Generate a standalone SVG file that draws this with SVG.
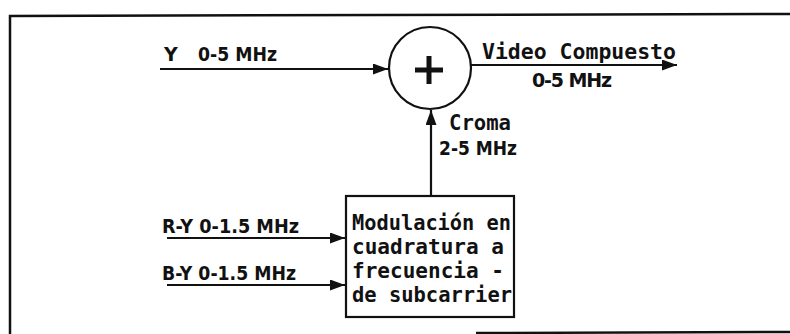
<svg xmlns="http://www.w3.org/2000/svg" width="790" height="334" viewBox="0 0 790 334">
<style>
.ln{stroke:#111;stroke-width:2.2;fill:none}
.frame{stroke:#111;stroke-width:2.5;fill:none}
.lbl{font-family:"DejaVu Sans","Liberation Sans",sans-serif;font-weight:bold;font-size:19px;fill:#111}
.mono{font-family:"DejaVu Sans Mono","Liberation Mono",monospace;font-weight:bold;font-size:22px;fill:#111}
.node{stroke:#111;stroke-width:2.2;fill:#fff}
</style>
<defs>
<marker id="ah" markerUnits="userSpaceOnUse" markerWidth="16" markerHeight="12" refX="15" refY="5.5" orient="auto">
<path d="M0,0 L15,5.5 L0,11 z" fill="#111"/>
</marker>
</defs>
<rect width="790" height="334" fill="#fff"/>
<g id="frame">
<path class="frame" d="M10,334 L10,16 L790,14"/>
<path class="frame" d="M476,333 L790,332"/>
</g>
<g id="connectors">
<line class="ln" x1="160" y1="69" x2="388" y2="69" marker-end="url(#ah)"/>
<line class="ln" x1="471" y1="65" x2="677" y2="65" marker-end="url(#ah)"/>
<line class="ln" x1="431" y1="196" x2="431" y2="110" marker-end="url(#ah)"/>
<line class="ln" x1="167" y1="238" x2="345" y2="238" marker-end="url(#ah)"/>
<line class="ln" x1="167" y1="285" x2="345" y2="285" marker-end="url(#ah)"/>
</g>
<g id="sum">
<circle class="node" cx="430" cy="68" r="41"/>
<path d="M429,56 L429,84 M415,70 L443,70" stroke="#111" stroke-width="5"/>
</g>
<g id="modulator">
<rect class="node" x="346" y="196" width="168" height="121"/>
<text class="mono" x="352" y="230" textLength="159" lengthAdjust="spacingAndGlyphs">Modulación en</text>
<text class="mono" x="352" y="254" textLength="152" lengthAdjust="spacingAndGlyphs">cuadratura a</text>
<text class="mono" x="352" y="278" textLength="152" lengthAdjust="spacingAndGlyphs">frecuencia -</text>
<text class="mono" x="352" y="302" textLength="160" lengthAdjust="spacingAndGlyphs">de subcarrier</text>
</g>
<g id="labels">
<text class="lbl" x="164" y="61">Y</text>
<text class="lbl" x="198" y="61" textLength="79" lengthAdjust="spacingAndGlyphs">0-5 MHz</text>
<text class="mono" x="482" y="59" font-size="23" textLength="194" lengthAdjust="spacingAndGlyphs">Video Compuesto</text>
<text class="lbl" x="532" y="87" font-size="16" textLength="80">0-5 MHz</text>
<text class="mono" x="449" y="130" font-size="21" textLength="62" lengthAdjust="spacingAndGlyphs">Croma</text>
<text class="lbl" x="439" y="155" font-size="18" textLength="78" lengthAdjust="spacingAndGlyphs">2-5 MHz</text>
<text class="lbl" x="162" y="233" textLength="137" lengthAdjust="spacingAndGlyphs">R-Y 0-1.5 MHz</text>
<text class="lbl" x="162" y="280" textLength="134" lengthAdjust="spacingAndGlyphs">B-Y 0-1.5 MHz</text>
</g>
</svg>
